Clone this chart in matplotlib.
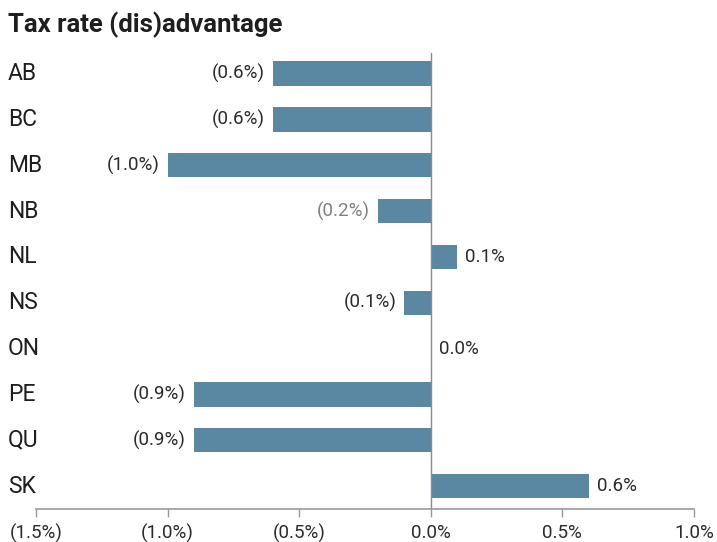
import matplotlib
matplotlib.use("Agg")
import matplotlib.pyplot as plt

provinces = ["AB", "BC", "MB", "NB", "NL", "NS", "ON", "PE", "QU", "SK"]
values = [-0.6, -0.6, -1.0, -0.2, 0.1, -0.1, 0.0, -0.9, -0.9, 0.6]
value_labels = ["(0.6%)", "(0.6%)", "(1.0%)", "(0.2%)", "0.1%", "(0.1%)", "0.0%", "(0.9%)", "(0.9%)", "0.6%"]
label_colors = ["#2a2a2a", "#2a2a2a", "#2a2a2a", "#808080", "#2a2a2a", "#2a2a2a", "#2a2a2a", "#2a2a2a", "#2a2a2a", "#2a2a2a"]
xticks = [-1.5, -1.0, -0.5, 0.0, 0.5, 1.0]
xtick_labels = ["(1.5%)", "(1.0%)", "(0.5%)", "0.0%", "0.5%", "1.0%"]
title = "Tax rate (dis)advantage"

plt.rcParams["font.family"] = ["Roboto", "DejaVu Sans"]

fig = plt.figure(figsize=(7.17, 5.42), dpi=100)
ax = fig.add_axes([36/717, 1-509/542, (694-36)/717, (509-53)/542])

ypos = list(range(len(provinces)))
ax.barh(ypos, values, height=0.53, color="#5a87a1", zorder=2)
ax.set_ylim(9.5, -0.45)
ax.set_xlim(-1.5, 1.0)
ax.axvline(0, color="#8a8a8a", lw=1.0, zorder=3)

for y, v, lab, c in zip(ypos, values, value_labels, label_colors):
    if v < 0:
        ax.annotate(lab, (v, y), xytext=(-6, 0), textcoords="offset points",
                    ha="right", va="center", fontsize=13.5, color=c)
    else:
        ax.annotate(lab, (v, y), xytext=(6, 0), textcoords="offset points",
                    ha="left", va="center", fontsize=13.5, color=c)

tr = matplotlib.transforms.blended_transform_factory(fig.transFigure, ax.transData)
for y, p in zip(ypos, provinces):
    ax.text(8/717, y, p, transform=tr, ha="left", va="center",
            fontsize=16.5, color="#1e1e1e")

ax.set_yticks([])
ax.set_xticks(xticks)
ax.set_xticklabels(xtick_labels, fontsize=13.5, color="#2a2a2a")
ax.tick_params(axis="x", direction="out", length=6, width=1, color="#999999", pad=5)
for s in ["top", "right", "left"]:
    ax.spines[s].set_visible(False)
ax.spines["bottom"].set_color("#999999")
ax.spines["bottom"].set_linewidth(1.2)

fig.text(8/717, 1-25/542, title, fontsize=18.5, fontweight="bold", color="#1e1e1e",
         ha="left", va="center")

fig.savefig("out.png", dpi=100)
